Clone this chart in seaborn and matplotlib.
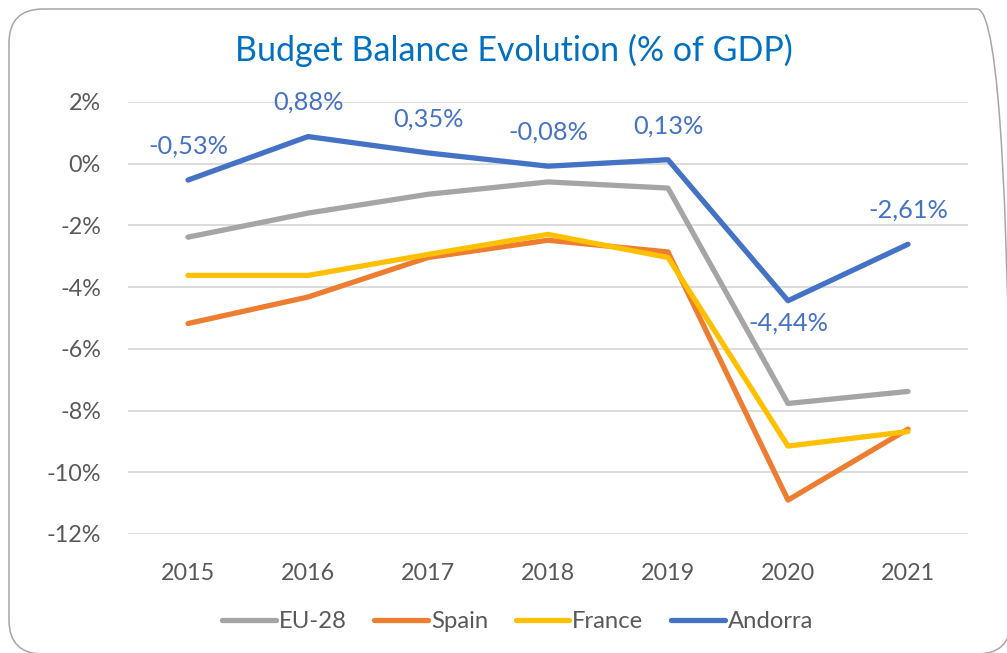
import pandas as pd
import matplotlib
matplotlib.use("Agg")
import matplotlib.pyplot as plt
import seaborn as sns
from matplotlib.patches import FancyBboxPatch
from matplotlib.lines import Line2D

# Data (% of GDP)
years = ["2015", "2016", "2017", "2018", "2019", "2020", "2021"]
eu28 = [-2.38, -1.60, -0.99, -0.59, -0.79, -7.77, -7.38]
spain = [-5.18, -4.32, -3.04, -2.48, -2.86, -10.90, -8.60]
france = [-3.62, -3.62, -2.94, -2.29, -3.04, -9.15, -8.68]
andorra = [-0.53, 0.88, 0.35, -0.08, 0.13, -4.44, -2.61]

series_names = ["EU-28", "Spain", "France", "Andorra"]
colors = ["#A5A5A5", "#ED7D31", "#FFC000", "#4472C4"]
yticks = [2, 0, -2, -4, -6, -8, -10, -12]

rows = []
for name, vals in zip(series_names, [eu28, spain, france, andorra]):
    for i, v in enumerate(vals):
        rows.append({"Year": i, "Series": name, "Value": v})
df = pd.DataFrame(rows)

sns.set_style("white")
plt.rcParams["font.family"] = ["Lato", "DejaVu Sans"]

fig = plt.figure(figsize=(10.07, 6.53), dpi=100)
ax = fig.add_axes([128 / 1007, 1 - 534 / 653, 840 / 1007, 432 / 653])

sns.lineplot(data=df, x="Year", y="Value", hue="Series", hue_order=series_names,
             palette=colors, linewidth=3.8, ax=ax, legend=False, sort=False)
for line in ax.get_lines():
    line.set_solid_capstyle("round")
    line.set_solid_joinstyle("round")

ax.set_xlim(-0.5, 6.5)
ax.set_ylim(-12, 2)
ax.set_yticks(yticks)
ax.set_yticklabels([f"{t}%" for t in yticks])
ax.set_xticks(range(len(years)))
ax.set_xticklabels(years)
ax.grid(axis="y", color="#D9D9D9", linewidth=1.3)
ax.set_axisbelow(True)
for s in ax.spines.values():
    s.set_visible(False)
ax.tick_params(axis="both", length=0, labelsize=16.8, labelcolor="#595959")
ax.tick_params(axis="y", pad=19.5)
ax.tick_params(axis="x", pad=21)
ax.set_xlabel("")
ax.set_ylabel("")

# Andorra data labels
for i, v in enumerate(andorra):
    txt = f"{v:.2f}%".replace(".", ",")
    dy = -16 if i == 5 else 24.5
    ax.annotate(txt, (i, v), xytext=(0, dy), textcoords="offset points",
                ha="center", va="center", fontsize=18.3, color="#4472C4")

fig.text(0.51, 1 - 50 / 653, "Budget Balance Evolution (% of GDP)", ha="center",
         va="center", fontsize=24.5, color="#0070C0")

handles = [Line2D([0], [0], color=c, linewidth=3.8) for c in colors]
fig.legend(handles, series_names, loc="center", bbox_to_anchor=(0.514, 1 - 622 / 653),
           ncol=4, frameon=False, fontsize=17.2, labelcolor="#595959",
           handlelength=2.25, columnspacing=1.15, handletextpad=0.12)

# rounded chart border, running off the right and bottom edges
border = FancyBboxPatch((0.09, -0.01), 10.02, 6.45,
                        boxstyle="round,pad=0,rounding_size=0.34",
                        transform=fig.dpi_scale_trans, fill=False,
                        edgecolor="#A6A6A6", linewidth=1.1)
fig.patches.append(border)

fig.savefig("out.png", dpi=100)
